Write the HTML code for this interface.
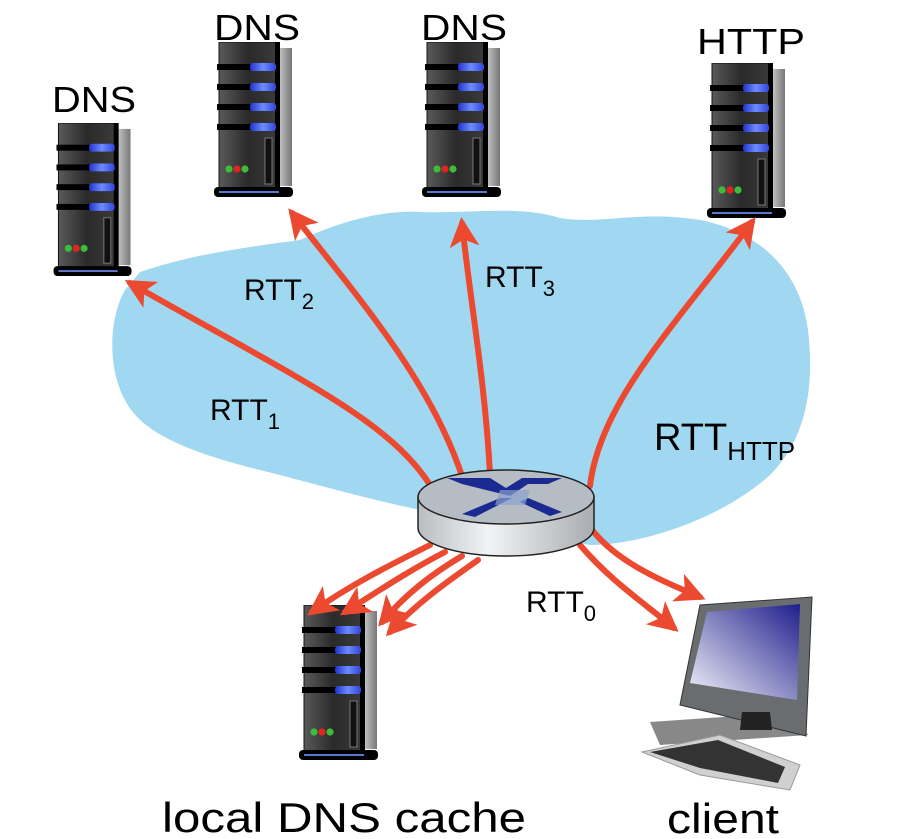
<!DOCTYPE html>
<html><head><meta charset="utf-8"><style>
html,body{margin:0;padding:0;background:#fff;}
svg{display:block;}
text{font-family:"Liberation Sans",sans-serif;fill:#000;}
</style></head><body>
<svg width="897" height="839" viewBox="0 0 897 839" xmlns="http://www.w3.org/2000/svg">
<defs>
<linearGradient id="bodyG" x1="0" x2="1" y1="0" y2="0">
<stop offset="0" stop-color="#5a5a5a"/><stop offset="0.5" stop-color="#2a2a2a"/><stop offset="1" stop-color="#3a3a3a"/></linearGradient>
<linearGradient id="sideG" x1="0" x2="1"><stop offset="0" stop-color="#ccc"/><stop offset="1" stop-color="#777"/></linearGradient>
<linearGradient id="blueG" x1="0" x2="1"><stop offset="0" stop-color="#2233cc"/><stop offset="0.5" stop-color="#6c8cff"/><stop offset="1" stop-color="#3344dd"/></linearGradient>
<linearGradient id="scrG" x1="0" y1="1" x2="1" y2="0"><stop offset="0" stop-color="#f4f4fb"/><stop offset="1" stop-color="#1e1e8c"/></linearGradient>
<linearGradient id="rtG" x1="0" x2="1"><stop offset="0" stop-color="#b9bcc0"/><stop offset="0.4" stop-color="#f2f3f4"/><stop offset="1" stop-color="#a9acb0"/></linearGradient>
<marker id="ah" viewBox="0 0 10 10" refX="8" refY="5" markerWidth="5" markerHeight="5" orient="auto">
<path d="M0,0 L10,5 L0,10 L2.5,5 Z" fill="#ec4a30"/></marker>
<symbol id="srv" viewBox="0 0 80 155" width="80" height="155">
<rect x="64" y="6" width="14" height="138" fill="url(#sideG)"/>
<rect x="5" y="0" width="58" height="146" fill="url(#bodyG)" stroke="#111" stroke-width="1"/>
<rect x="61" y="0" width="5" height="150" fill="#000"/>
<g fill="#000"><rect x="3" y="22" width="40" height="6"/><rect x="3" y="42" width="40" height="6"/><rect x="3" y="62" width="40" height="6"/><rect x="3" y="82" width="40" height="6"/></g>
<g fill="url(#blueG)"><rect x="36" y="21" width="26" height="8" rx="3"/><rect x="36" y="41" width="26" height="8" rx="3"/><rect x="36" y="61" width="26" height="8" rx="3"/><rect x="36" y="81" width="26" height="8" rx="3"/></g>
<rect x="51" y="96" width="7" height="46" fill="#111" stroke="#777" stroke-width="1"/>
<circle cx="15" cy="127" r="3.6" fill="#3bbf3b"/><circle cx="23" cy="127" r="3.6" fill="#e52222"/><circle cx="31" cy="127" r="3.6" fill="#3bbf3b"/>
<rect x="0" y="145" width="79" height="10" rx="4" fill="#000"/>
<rect x="5" y="149" width="60" height="2" fill="#5a7ad0"/>
</symbol>
</defs>

<path d="M140,272 C190,255 240,248 300,240 C340,222 380,210 420,212 C470,214 520,205 560,218 C600,225 640,210 700,220 C760,232 800,270 808,330 C815,390 805,440 770,475 C720,520 640,545 590,545 C560,540 520,525 490,520 C420,515 340,490 260,470 C180,450 140,430 125,400 C108,370 108,320 125,290 Z" fill="#a1d8f1"/>

<use href="#srv" x="52" y="123" width="82" height="153"/>
<use href="#srv" x="212" y="42" width="84" height="155"/>
<use href="#srv" x="420" y="42" width="84" height="155"/>
<use href="#srv" x="706" y="63" width="82" height="155"/>
<use href="#srv" x="298" y="605" width="82" height="155"/>

<g fill="none" stroke="#ec4a30" stroke-width="6" stroke-linecap="round">
<path d="M432,488 C390,420 300,380 130,283" marker-end="url(#ah)"/>
<path d="M462,476 C430,380 360,300 292,213" marker-end="url(#ah)"/>
<path d="M490,474 C485,380 470,300 462,223" marker-end="url(#ah)"/>
<path d="M590,486 C600,400 680,320 752,222" marker-end="url(#ah)"/>
<path d="M430,545 C390,565 350,585 312,612" marker-end="url(#ah)"/>
<path d="M445,552 C410,570 380,590 345,612" marker-end="url(#ah)"/>
<path d="M462,556 C430,575 405,595 382,622" marker-end="url(#ah)"/>
<path d="M478,560 C450,580 420,600 390,632" marker-end="url(#ah)"/>
<path d="M585,520 C610,560 660,580 700,597" marker-end="url(#ah)"/>
<path d="M580,545 C610,580 640,600 674,628" marker-end="url(#ah)"/>
</g>

<path d="M418,497 L418,528 A88,28 0 0 0 594,528 L594,497 Z" fill="url(#rtG)" stroke="#222" stroke-width="1.5"/>
<ellipse cx="506" cy="497" rx="88" ry="27" fill="#b5bcc4" stroke="#222" stroke-width="1.5"/>
<g fill="#1a2a90">
<path d="M447,478 L490,478 L506,488 L522,478 L562,478 L548,484 L528,484 L510,496 L462,484 Z"/>
<path d="M462,514 L500,498 L512,498 L475,517 Z"/>
<path d="M528,498 L562,512 L550,516 L520,502 Z"/>
</g>
<path d="M500,490 L530,490 L525,505 L495,505 Z" fill="#8aa3cc" opacity="0.7"/>

<path d="M650,722 L795,712 L808,735 L660,745 Z" fill="#888"/>
<path d="M700,605 L812,597 L806,736 L680,705 Z" fill="#6a6d70" stroke="#333" stroke-width="1"/>
<path d="M707,612 L800,604 L797,700 L690,683 Z" fill="url(#scrG)"/>
<path d="M742,712 L770,712 L772,730 L740,730 Z" fill="#222"/>
<path d="M642,752 L720,735 L800,765 L790,790 L700,775 Z" fill="#d0d0d0" stroke="#999"/>
<path d="M650,752 L718,740 L785,767 L778,783 L700,768 Z" fill="#333"/>

<text x="52" y="112" font-size="36" textLength="84" lengthAdjust="spacingAndGlyphs">DNS</text>
<text x="214" y="40" font-size="36" textLength="86" lengthAdjust="spacingAndGlyphs">DNS</text>
<text x="421" y="40" font-size="36" textLength="86" lengthAdjust="spacingAndGlyphs">DNS</text>
<text x="697" y="54" font-size="36" textLength="108" lengthAdjust="spacingAndGlyphs">HTTP</text>
<text x="210" y="420" font-size="30">RTT<tspan font-size="22" dy="9">1</tspan></text>
<text x="244" y="300" font-size="30">RTT<tspan font-size="22" dy="9">2</tspan></text>
<text x="485" y="287" font-size="30">RTT<tspan font-size="22" dy="9">3</tspan></text>
<text x="654" y="450" font-size="38">RTT<tspan font-size="26" dy="10">HTTP</tspan></text>
<text x="526" y="612" font-size="30">RTT<tspan font-size="22" dy="9">0</tspan></text>
<text x="162" y="832" font-size="42" textLength="364" lengthAdjust="spacingAndGlyphs">local DNS cache</text>
<text x="667" y="833" font-size="42" textLength="112" lengthAdjust="spacingAndGlyphs">client</text>
</svg>
</body></html>
